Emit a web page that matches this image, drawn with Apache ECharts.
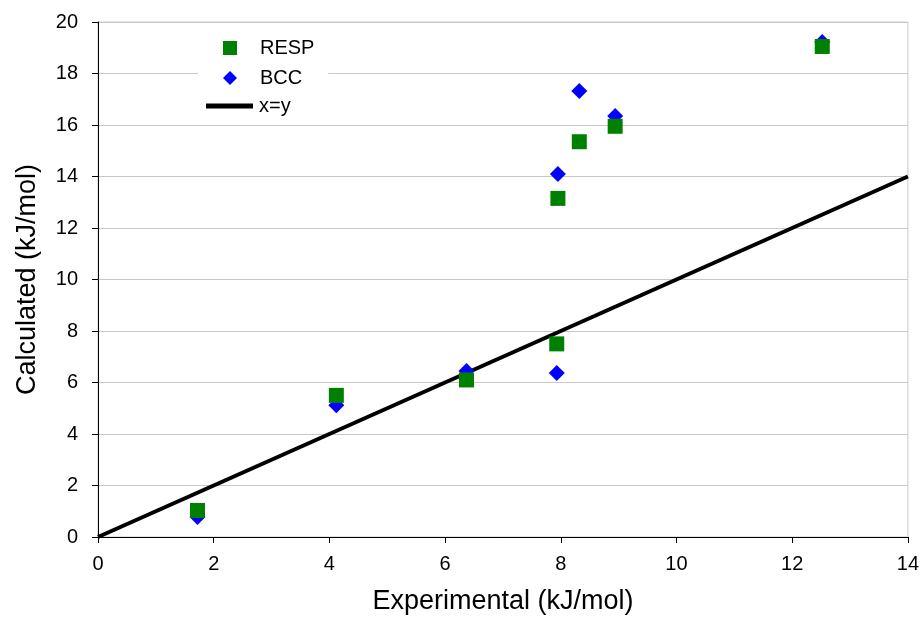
<!DOCTYPE html>
<html>
<head>
<meta charset="utf-8">
<script src="https://cdn.jsdelivr.net/npm/echarts@6/dist/echarts.min.js"></script>
<style>
  html, body { margin: 0; padding: 0; background: #fff; }
  #chart { width: 922px; height: 620px; }
</style>
</head>
<body>
<div id="chart"></div>
<script>
// experimental values (x) shared by both methods
const experimental = [1.72, 4.12, 6.37, 7.93, 7.95, 8.32, 8.94, 12.52];
const resp = [1.03, 5.5, 6.1, 7.5, 13.15, 15.35, 15.95, 19.05];
const bcc = [0.78, 5.12, 6.45, 6.37, 14.1, 17.32, 16.35, 19.22];
const identityLine = [[0, 0], [14, 14]];

const FONT = "Liberation Sans, Arial, sans-serif";

const chart = echarts.init(document.getElementById("chart"));

chart.setOption({
  animation: false,
  backgroundColor: "#fff",
  grid: {
    left: 98,
    right: 14,
    top: 22,
    bottom: 83,
    show: true,
    borderColor: "#c8c8c8",
    borderWidth: 1,
  },
  legend: [
    {
      data: ["RESP", "BCC"],
      orient: "vertical",
      left: 198,
      top: 30,
      padding: [8, 14, 4, 25],
      itemWidth: 14,
      itemHeight: 14,
      itemGap: 10,
      backgroundColor: "#fff",
      textStyle: {
        fontFamily: FONT,
        fontSize: 20,
        color: "#000",
        padding: [0, 0, 0, 18],
      },
    },
    {
      data: [{ name: "x=y", icon: "rect" }],
      left: 206,
      top: 96,
      padding: 0,
      itemWidth: 47,
      itemHeight: 5,
      textStyle: { fontFamily: FONT, fontSize: 20, color: "#000", padding: [0, 0, 0, 1] },
    },
  ],
  xAxis: {
    type: "value",
    min: 0,
    max: 14,
    interval: 2,
    name: "Experimental (kJ/mol)",
    nameLocation: "middle",
    nameGap: 51,
    nameTextStyle: { fontFamily: FONT, fontSize: 27, color: "#000" },
    axisLine: { show: true, onZero: false, lineStyle: { color: "#000", width: 1 } },
    axisTick: { show: true, inside: false, length: 6, lineStyle: { color: "#000" } },
    axisLabel: { fontFamily: FONT, fontSize: 20, color: "#000", margin: 17 },
    splitLine: { show: false },
  },
  yAxis: {
    type: "value",
    min: 0,
    max: 20,
    interval: 2,
    name: "Calculated (kJ/mol)",
    nameLocation: "middle",
    nameGap: 57,
    nameTextStyle: { fontFamily: FONT, fontSize: 27, color: "#000" },
    axisLine: { show: true, onZero: false, lineStyle: { color: "#000", width: 1 } },
    axisTick: { show: true, inside: false, length: 6, lineStyle: { color: "#000" } },
    axisLabel: { fontFamily: FONT, fontSize: 20, color: "#000", margin: 20 },
    splitLine: { show: true, lineStyle: { color: "#c8c8c8", width: 1 } },
  },
  series: [
    {
      name: "x=y",
      type: "line",
      data: identityLine,
      symbol: "none",
      lineStyle: { color: "#000", width: 4 },
      itemStyle: { color: "#000" },
      z: 2,
    },
    {
      name: "BCC",
      type: "scatter",
      data: experimental.map((x, i) => [x, bcc[i]]),
      symbol: "diamond",
      symbolSize: 16,
      itemStyle: { color: "#0000ff", opacity: 1 },
      z: 3,
    },
    {
      name: "RESP",
      type: "scatter",
      data: experimental.map((x, i) => [x, resp[i]]),
      symbol: "rect",
      symbolSize: 15,
      itemStyle: { color: "#008000", opacity: 1 },
      z: 4,
    },
  ],
});
</script>
</body>
</html>
